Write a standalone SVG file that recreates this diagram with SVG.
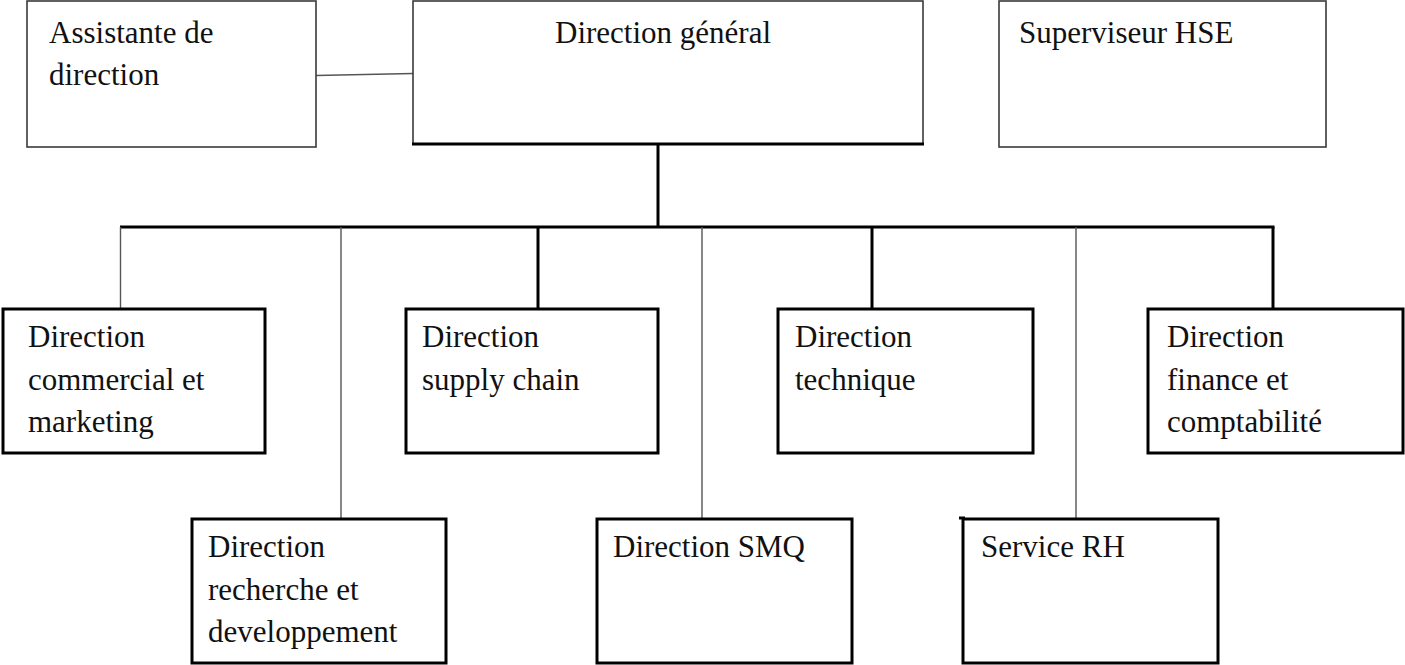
<svg xmlns="http://www.w3.org/2000/svg" width="1405" height="665" viewBox="0 0 1405 665">
  <style>
    .bg { fill: #ffffff; }
    .top { fill: #ffffff; stroke: #3a3a3a; stroke-width: 1.6; }
    .box { fill: #ffffff; stroke: #000000; stroke-width: 3; }
    .thick { stroke: #000000; stroke-width: 3; fill: none; }
    .thin { stroke: #555555; stroke-width: 1.4; fill: none; }
    text { font-family: "Liberation Serif", "Times New Roman", serif; font-size: 31px; fill: #111111; }
  </style>

  <rect class="bg" x="0" y="0" width="1405" height="665"/>

  <!-- Connectors -->
  <g id="connectors">
    <!-- assistant link -->
    <line class="thin" x1="316" y1="75.5" x2="413" y2="73.5"/>
    <!-- trunk from the general direction down to the bus -->
    <line class="thick" x1="658" y1="144" x2="658" y2="227"/>
    <!-- horizontal bus -->
    <line class="thick" x1="120" y1="227" x2="1274.5" y2="227"/>
    <!-- drops to the second row -->
    <line class="thin" x1="120.5" y1="227" x2="120.5" y2="309"/>
    <line class="thick" x1="538" y1="227" x2="538" y2="309"/>
    <line class="thick" x1="872" y1="227" x2="872" y2="309"/>
    <line class="thick" x1="1273" y1="227" x2="1273" y2="309"/>
    <!-- drops to the third row -->
    <line class="thin" x1="341" y1="227" x2="341" y2="519"/>
    <line class="thin" x1="702" y1="227" x2="702" y2="519"/>
    <line class="thin" x1="1076" y1="227" x2="1076" y2="519"/>
  </g>

  <!-- Top row -->
  <g id="node-assistante">
    <rect class="top" x="27" y="1" width="289" height="146"/>
    <text x="49" y="43">Assistante de</text>
    <text x="49" y="85">direction</text>
  </g>

  <g id="node-direction-generale">
    <rect class="top" x="413" y="1" width="510" height="143"/>
    <line class="thick" x1="412" y1="144" x2="924" y2="144"/>
    <text x="555" y="43">Direction général</text>
  </g>

  <g id="node-hse">
    <rect class="top" x="999" y="1" width="327" height="146"/>
    <text x="1019" y="43">Superviseur HSE</text>
  </g>

  <!-- Second row -->
  <g id="node-commercial">
    <rect class="box" x="3" y="309" width="262" height="144"/>
    <text x="28" y="347">Direction</text>
    <text x="28" y="390">commercial et</text>
    <text x="28" y="432">marketing</text>
  </g>

  <g id="node-supply-chain">
    <rect class="box" x="406" y="309" width="252" height="144"/>
    <text x="422" y="347">Direction</text>
    <text x="422" y="390">supply chain</text>
  </g>

  <g id="node-technique">
    <rect class="box" x="778" y="309" width="255" height="144"/>
    <text x="795" y="347">Direction</text>
    <text x="795" y="390">technique</text>
  </g>

  <g id="node-finance">
    <rect class="box" x="1148" y="309" width="255" height="144"/>
    <text x="1167" y="347">Direction</text>
    <text x="1167" y="390">finance et</text>
    <text x="1167" y="432">comptabilité</text>
  </g>

  <!-- Third row -->
  <g id="node-recherche">
    <rect class="box" x="192" y="519" width="254" height="144"/>
    <text x="208" y="557">Direction</text>
    <text x="208" y="600">recherche et</text>
    <text x="208" y="642">developpement</text>
  </g>

  <g id="node-smq">
    <rect class="box" x="597" y="519" width="255" height="144"/>
    <text x="613" y="557">Direction SMQ</text>
  </g>

  <g id="node-rh">
    <rect class="box" x="963" y="519" width="255" height="144"/>
    <line class="thick" x1="959" y1="518" x2="965" y2="518"/>
    <text x="981" y="557">Service RH</text>
  </g>
</svg>
